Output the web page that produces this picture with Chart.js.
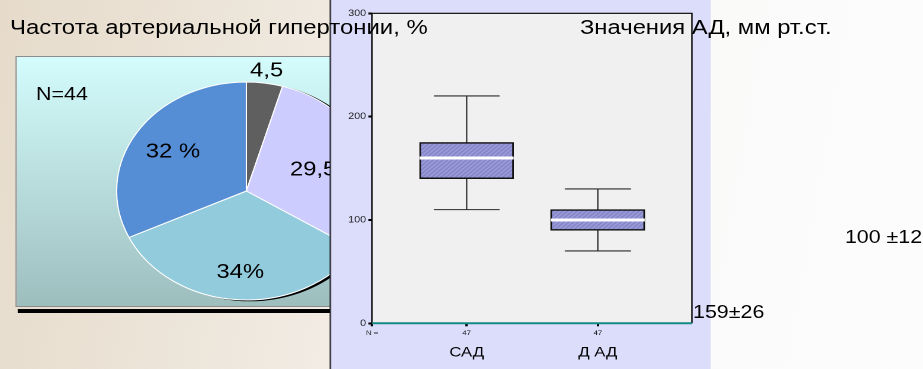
<!DOCTYPE html>
<html lang="ru">
<head>
<meta charset="utf-8">
<title>Частота артериальной гипертонии и значения АД</title>
<script src="https://cdn.jsdelivr.net/npm/chart.js@4/dist/chart.umd.min.js"></script>
<style>
  html, body { margin: 0; padding: 0; width: 923px; height: 369px; overflow: hidden; }
  body {
    background: linear-gradient(100deg, #e6dbcb 0%, #ece4d8 22%, #f2ede6 42%, #f8f7f4 62%, #fbfbfb 80%, #fcfcfc 100%);
    font-family: "Liberation Sans", Arial, sans-serif;
  }
  /* the slide is laid out at 4:3 width and stretched to the wide frame */
  #slide { position: absolute; left: 0; top: 0; width: 776px; height: 369px; transform: scaleX(1.19); transform-origin: 0 0; }
  .abs { position: absolute; }
  .txt { position: absolute; white-space: nowrap; line-height: 1; color: #000; }
  #piePanel { left: 12.6px; top: 56px; width: 278px; height: 251px; box-sizing: border-box;
              background: linear-gradient(#d4fcfc, #9ebebe); border: 1px solid #8c8c8c; }
  #pieShadow { left: 15px; top: 309px; width: 276px; height: 3.5px; background: #000; }
  #pieCanvas { left: 56.7px; top: 57px; }
  #boxPanel { left: 277px; top: 0; width: 319.6px; height: 369px; box-sizing: border-box;
              background: #dcdcfb; border-left: 1.7px solid #000; }
  #boxCanvas { left: 278px; top: 0; }
</style>
</head>
<body>
<div id="slide">
  <div id="piePanel" class="abs"></div>
  <div id="pieShadow" class="abs"></div>
  <canvas id="pieCanvas" class="abs" width="300" height="268"></canvas>
  <div id="boxPanel" class="abs"></div>
  <canvas id="boxCanvas" class="abs" width="318" height="369"></canvas>

  <div class="txt" style="left:8.4px; top:16.6px; font-size:20.1px;">Частота артериальной гипертонии, %</div>
  <div class="txt" style="left:487.4px; top:16.6px; font-size:20px;">Значения АД, мм рт.ст.</div>
  <div class="txt" style="left:30.3px; top:84.8px; font-size:18px;">N=44</div>
  <div class="txt" style="left:710px; top:227.8px; font-size:18px;">100 ±12</div>
  <div class="txt" style="left:582.4px; top:303.3px; font-size:18px;">159±26</div>
</div>

<script>
// Частота артериальной гипертонии, % (N=44)
const pieLabels = ['4,5', '29,5', '34%', '32 %'];
const pieValues = [4.5, 29.5, 34, 32];
const pieColors = ['#5f5f5f', '#ccccff', '#92cbdc', '#558ed5'];

// Значения АД, мм рт.ст. — ящики с усами
const bpGroups = ['САД', 'Д АД'];
const bpGroupN = [47, 47];
const bpMin = [110, 70];
const bpQ1 = [140, 90];
const bpMedian = [160, 100];
const bpQ3 = [175, 110];
const bpMax = [220, 130];
const bpTicks = [0, 100, 200, 300];

const FONT = '"Liberation Sans", Arial, sans-serif';
const bpPos = bpGroups.map((_, i) => i + 1);

// ---------- pie ----------
const pieLabelPlugin = {
  id: 'pieLabels',
  beforeDatasetsDraw(chart) {
    // dark rim along the lower right edge of the pie
    const arc = chart.getDatasetMeta(0).data[0];
    const ctx = chart.ctx;
    ctx.save();
    ctx.fillStyle = '#000';
    ctx.beginPath();
    ctx.arc(arc.x + 3, arc.y + 1, arc.outerRadius + 0.3, 0, Math.PI * 2);
    ctx.fill();
    ctx.restore();
  },
  afterDatasetsDraw(chart, args, opts) {
    const ctx = chart.ctx;
    ctx.save();
    ctx.font = '20px ' + FONT;
    ctx.fillStyle = '#000';
    ctx.textAlign = 'center';
    ctx.textBaseline = 'middle';
    chart.getDatasetMeta(0).data.forEach((arc, i) => {
      const mid = (arc.startAngle + arc.endAngle) / 2;
      const r = arc.outerRadius * opts.radius[i];
      ctx.fillText(pieLabels[i], arc.x + Math.cos(mid) * r, arc.y + Math.sin(mid) * r);
    });
    ctx.restore();
  }
};

new Chart(document.getElementById('pieCanvas'), {
  type: 'pie',
  data: {
    labels: pieLabels,
    datasets: [{
      data: pieValues,
      backgroundColor: pieColors,
      borderColor: '#ffffff',
      borderWidth: 1
    }]
  },
  options: {
    responsive: false,
    animation: false,
    devicePixelRatio: 2,
    radius: 109,
    layout: { padding: 20 },
    plugins: {
      legend: { display: false },
      tooltip: { enabled: false },
      pieLabels: { radius: [1.11, 0.55, 0.75, 0.67] }
    }
  },
  plugins: [pieLabelPlugin]
});

// ---------- box plot ----------
const hatch = (() => {
  const c = document.createElement('canvas');
  c.width = 4; c.height = 4;
  const g = c.getContext('2d');
  g.fillStyle = '#7f7fc8';
  g.fillRect(0, 0, 4, 4);
  g.strokeStyle = '#acacdf';
  g.lineWidth = 1.2;
  g.beginPath();
  g.moveTo(-1, 5); g.lineTo(5, -1);
  g.moveTo(-1, 1); g.lineTo(1, -1);
  g.moveTo(3, 5); g.lineTo(5, 3);
  g.stroke();
  return g.createPattern(c, 'repeat');
})();

const boxPlugin = {
  id: 'boxParts',
  beforeDraw(chart) {
    const { ctx, chartArea: a } = chart;
    ctx.save();
    ctx.fillStyle = '#f0f0f0';
    ctx.fillRect(a.left, a.top, a.right - a.left, a.bottom - a.top);
    ctx.restore();
  },
  afterDatasetsDraw(chart) {
    const { ctx, chartArea: a, scales: { x, y } } = chart;
    const bars = chart.getDatasetMeta(0).data;
    ctx.save();
    bars.forEach((bar, i) => {
      const cx = x.getPixelForValue(bpPos[i]);
      const half = bar.width / 2;
      const cap = bar.width * 0.35;
      const yMax = y.getPixelForValue(bpMax[i]);
      const yMin = y.getPixelForValue(bpMin[i]);
      ctx.strokeStyle = '#2a2a2a';
      ctx.lineWidth = 1.1;
      ctx.beginPath();
      ctx.moveTo(cx, y.getPixelForValue(bpQ3[i])); ctx.lineTo(cx, yMax);
      ctx.moveTo(cx - cap, yMax); ctx.lineTo(cx + cap, yMax);
      ctx.moveTo(cx, y.getPixelForValue(bpQ1[i])); ctx.lineTo(cx, yMin);
      ctx.moveTo(cx - cap, yMin); ctx.lineTo(cx + cap, yMin);
      ctx.stroke();
      // median
      const ym = y.getPixelForValue(bpMedian[i]);
      ctx.strokeStyle = '#ffffff';
      ctx.lineWidth = 3;
      ctx.beginPath();
      ctx.moveTo(cx - half, ym); ctx.lineTo(cx + half, ym);
      ctx.stroke();
    });
    // frame of the plot area
    ctx.strokeStyle = '#000';
    ctx.lineWidth = 1.2;
    ctx.beginPath();
    ctx.moveTo(a.left, a.bottom); ctx.lineTo(a.left, a.top);
    ctx.lineTo(a.right, a.top); ctx.lineTo(a.right, a.bottom);
    ctx.stroke();
    ctx.strokeStyle = '#138a86';
    ctx.lineWidth = 2;
    ctx.beginPath();
    ctx.moveTo(a.left, a.bottom); ctx.lineTo(a.right, a.bottom);
    ctx.stroke();
    ctx.restore();
  }
};

const xRange = { min: 0.278, max: 2.717 };

new Chart(document.getElementById('boxCanvas'), {
  type: 'bar',
  data: {
    datasets: [{
      data: bpPos.map((p, i) => ({ x: p, y: [bpQ1[i], bpQ3[i]] })),
      backgroundColor: hatch,
      borderColor: '#111',
      borderWidth: 1.5,
      borderSkipped: false,
      barThickness: 79
    }]
  },
  options: {
    responsive: false,
    animation: false,
    devicePixelRatio: 2,
    layout: { padding: { top: 13.3, right: 14.6, bottom: 0, left: 0 } },
    plugins: { legend: { display: false }, tooltip: { enabled: false } },
    scales: {
      x: {
        type: 'linear', position: 'bottom', weight: 0, offset: false,
        min: xRange.min, max: xRange.max,
        afterBuildTicks: s => { s.ticks = [{ value: s.min }].concat(bpPos.map(v => ({ value: v }))); },
        afterFit: s => { s.height = 16; },
        grid: { offset: false, drawOnChartArea: false, drawTicks: true, tickLength: 3, color: '#000', lineWidth: 2 },
        border: { display: false },
        ticks: {
          autoSkip: false, maxRotation: 0, padding: 3, color: '#222',
          font: { size: 6.5, family: FONT },
          callback: (v, i) => (i === 0 ? 'N =' : String(bpGroupN[i - 1]))
        }
      },
      x2: {
        type: 'linear', position: 'bottom', weight: 1, offset: false,
        min: xRange.min, max: xRange.max,
        afterBuildTicks: s => { s.ticks = bpPos.map(v => ({ value: v })); },
        afterFit: s => { s.height = 29.7; },
        grid: { offset: false, display: false, drawTicks: false },
        border: { display: false },
        ticks: {
          autoSkip: false, maxRotation: 0, padding: 5, color: '#000',
          font: { size: 14, family: FONT },
          callback: (v, i) => bpGroups[i]
        }
      },
      y: {
        min: 0, max: 300,
        afterBuildTicks: s => { s.ticks = bpTicks.map(v => ({ value: v })); },
        afterFit: s => { s.width = 34.6; },
        grid: { drawOnChartArea: false, drawTicks: true, tickLength: 3, color: '#000', lineWidth: 2 },
        border: { display: false },
        ticks: { padding: 2, color: '#222', font: { size: 9, family: FONT } }
      }
    }
  },
  plugins: [boxPlugin]
});
</script>
</body>
</html>
